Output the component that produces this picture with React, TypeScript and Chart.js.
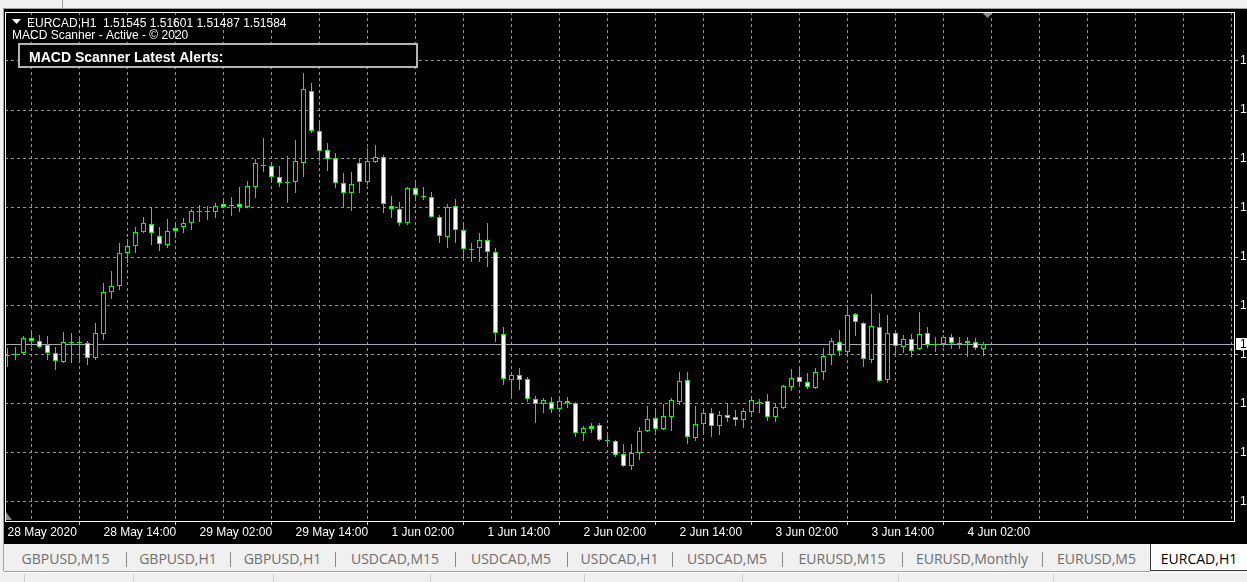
import React, { useEffect, useRef } from "react";
import { Chart, registerables } from "chart.js";

Chart.register(...registerables);

// ---------- data ----------
const symbolName = "EURCAD,H1";
const indicatorText = "MACD Scanner - Active - © 2020";
const alertsTitle = "MACD Scanner Latest Alerts:";

const timeLabels = [
  "28 May 2020", "28 May 14:00", "29 May 02:00", "29 May 14:00", "1 Jun 02:00",
  "1 Jun 14:00", "2 Jun 02:00", "2 Jun 14:00", "3 Jun 02:00", "3 Jun 14:00", "4 Jun 02:00",
];

const opens = [
  1.51496, 1.51496, 1.51512, 1.51632, 1.51608, 1.51576, 1.51512, 1.51440, 1.51600, 1.51592,
  1.51592, 1.51472, 1.51664, 1.52000, 1.52048, 1.52312, 1.52368, 1.52480, 1.52544, 1.52448,
  1.52376, 1.52512, 1.52520, 1.52552, 1.52640, 1.52648, 1.52640, 1.52704, 1.52696, 1.52704,
  1.52680, 1.52840, 1.53016, 1.53008, 1.52920, 1.52880, 1.52880, 1.53032, 1.53608, 1.53288,
  1.53136, 1.53072, 1.52872, 1.52792, 1.53032, 1.52880, 1.53040, 1.53080, 1.52688, 1.52664,
  1.52552, 1.52832, 1.52768, 1.52760, 1.52600, 1.52440, 1.52688, 1.52496, 1.52344, 1.52352,
  1.52416, 1.52320, 1.51664, 1.51296, 1.51336, 1.51304, 1.51144, 1.51104, 1.51120, 1.51064,
  1.51128, 1.51112, 1.50872, 1.50928, 1.50936, 1.50816, 1.50808, 1.50704, 1.50608, 1.50712,
  1.50888, 1.50992, 1.50904, 1.51000, 1.51120, 1.51296, 1.50832, 1.50944, 1.51032, 1.50928,
  1.51016, 1.51000, 1.50976, 1.51040, 1.51120, 1.51128, 1.51000, 1.51072, 1.51240, 1.51320,
  1.51280, 1.51232, 1.51360, 1.51496, 1.51600, 1.51520, 1.51824, 1.51752, 1.51456, 1.51720,
  1.51296, 1.51672, 1.51560, 1.51624, 1.51544, 1.51672, 1.51584, 1.51584, 1.51640, 1.51592,
  1.51608, 1.51600, 1.51545,
];

const highs = [
  1.51552, 1.51560, 1.51648, 1.51688, 1.51656, 1.51648, 1.51560, 1.51680, 1.51672, 1.51648,
  1.51608, 1.51752, 1.52072, 1.52168, 1.52392, 1.52424, 1.52520, 1.52600, 1.52672, 1.52520,
  1.52584, 1.52552, 1.52592, 1.52664, 1.52696, 1.52688, 1.52712, 1.52752, 1.52760, 1.52840,
  1.52888, 1.53064, 1.53232, 1.53032, 1.53008, 1.53088, 1.53216, 1.53752, 1.53672, 1.53376,
  1.53192, 1.53112, 1.52952, 1.52960, 1.53072, 1.53152, 1.53176, 1.53096, 1.52768, 1.52720,
  1.52840, 1.52888, 1.52840, 1.52800, 1.52616, 1.52704, 1.52744, 1.52552, 1.52392, 1.52472,
  1.52552, 1.52352, 1.51720, 1.51360, 1.51392, 1.51320, 1.51168, 1.51152, 1.51160, 1.51152,
  1.51160, 1.51120, 1.50928, 1.50952, 1.50952, 1.50856, 1.50816, 1.50784, 1.50784, 1.50920,
  1.51088, 1.51072, 1.51104, 1.51152, 1.51360, 1.51360, 1.51088, 1.51064, 1.51072, 1.51048,
  1.51112, 1.51056, 1.51072, 1.51152, 1.51144, 1.51184, 1.51112, 1.51256, 1.51384, 1.51392,
  1.51352, 1.51392, 1.51552, 1.51632, 1.51696, 1.51872, 1.51832, 1.51760, 1.51984, 1.51832,
  1.51816, 1.51688, 1.51656, 1.51664, 1.51840, 1.51720, 1.51640, 1.51656, 1.51664, 1.51640,
  1.51640, 1.51632, 1.51601,
];

const lows = [
  1.51400, 1.51456, 1.51504, 1.51560, 1.51552, 1.51456, 1.51376, 1.51432, 1.51432, 1.51440,
  1.51416, 1.51456, 1.51616, 1.51944, 1.52016, 1.52232, 1.52312, 1.52472, 1.52376, 1.52328,
  1.52352, 1.52432, 1.52472, 1.52496, 1.52560, 1.52576, 1.52592, 1.52672, 1.52608, 1.52640,
  1.52672, 1.52752, 1.52960, 1.52872, 1.52840, 1.52712, 1.52792, 1.52920, 1.53272, 1.53048,
  1.52968, 1.52832, 1.52680, 1.52648, 1.52792, 1.52856, 1.53032, 1.52632, 1.52592, 1.52528,
  1.52536, 1.52744, 1.52736, 1.52592, 1.52392, 1.52352, 1.52392, 1.52280, 1.52240, 1.52240,
  1.52200, 1.51600, 1.51256, 1.51152, 1.51216, 1.51120, 1.50952, 1.51032, 1.51032, 1.51040,
  1.51072, 1.50840, 1.50808, 1.50872, 1.50808, 1.50760, 1.50680, 1.50600, 1.50576, 1.50656,
  1.50880, 1.50856, 1.50896, 1.50888, 1.51096, 1.50784, 1.50808, 1.50864, 1.50840, 1.50856,
  1.50960, 1.50928, 1.50912, 1.51016, 1.51032, 1.50968, 1.50960, 1.51064, 1.51208, 1.51264,
  1.51224, 1.51224, 1.51296, 1.51416, 1.51488, 1.51496, 1.51648, 1.51400, 1.51432, 1.51280,
  1.51272, 1.51504, 1.51512, 1.51480, 1.51536, 1.51552, 1.51520, 1.51560, 1.51544, 1.51544,
  1.51480, 1.51536, 1.51487,
];

const closes = [
  1.51488, 1.51504, 1.51632, 1.51608, 1.51560, 1.51512, 1.51448, 1.51600, 1.51592, 1.51600,
  1.51472, 1.51672, 1.52000, 1.52048, 1.52312, 1.52368, 1.52480, 1.52552, 1.52472, 1.52384,
  1.52488, 1.52488, 1.52552, 1.52648, 1.52648, 1.52640, 1.52688, 1.52680, 1.52688, 1.52680,
  1.52848, 1.53032, 1.53008, 1.52920, 1.52872, 1.52872, 1.53048, 1.53624, 1.53288, 1.53128,
  1.53064, 1.52872, 1.52792, 1.52864, 1.52880, 1.53048, 1.53080, 1.52704, 1.52664, 1.52552,
  1.52832, 1.52776, 1.52760, 1.52600, 1.52448, 1.52680, 1.52496, 1.52344, 1.52336, 1.52416,
  1.52320, 1.51672, 1.51304, 1.51336, 1.51296, 1.51144, 1.51104, 1.51136, 1.51064, 1.51128,
  1.51112, 1.50872, 1.50912, 1.50904, 1.50816, 1.50808, 1.50696, 1.50608, 1.50712, 1.50888,
  1.50984, 1.50904, 1.51008, 1.51136, 1.51288, 1.50840, 1.50944, 1.51032, 1.50928, 1.51016,
  1.50992, 1.50976, 1.51048, 1.51136, 1.51112, 1.51000, 1.51080, 1.51248, 1.51312, 1.51280,
  1.51240, 1.51360, 1.51488, 1.51608, 1.51528, 1.51816, 1.51760, 1.51464, 1.51728, 1.51288,
  1.51672, 1.51568, 1.51624, 1.51528, 1.51664, 1.51576, 1.51576, 1.51640, 1.51592, 1.51584,
  1.51592, 1.51552, 1.51584,
];

const priceGrid = [
  1.53848, 1.53456, 1.53064, 1.52672, 1.52280, 1.51888, 1.51496, 1.51104, 1.50712, 1.50320,
];

const tabLabels = [
  "GBPUSD,M15", "GBPUSD,H1", "GBPUSD,H1", "USDCAD,M15", "USDCAD,M5", "USDCAD,H1",
  "USDCAD,M5", "EURUSD,M15", "EURUSD,Monthly", "EURUSD,M5", "EURCAD,H1",
];

// ---------- layout / style constants ----------
const Y_MIN = 1.50168;
const Y_MAX = 1.5424;
const X_MIN = -0.3125;
const X_MAX = 153.3125;
const BARS_PER_GRID = 6;
const BARS_PER_LABEL = 12;
const GRID_COLOR = "#8e979f";
const CANDLE = "#00ff00";
const FONT = "'Liberation Sans', Arial, sans-serif";
const TAB_EDGES = [5, 126, 230, 335, 455, 567, 672, 782, 902, 1042, 1151, 1247];
const STATUS_SEPS = [24, 133, 273, 430, 584, 742, 898, 1053];

export default function App() {
  const canvasRef = useRef<HTMLCanvasElement | null>(null);

  useEffect(() => {
    const canvas = canvasRef.current;
    if (!canvas) return;
    const n = opens.length;
    const idx = Array.from({ length: n }, (_, i) => i);
    const last = n - 1;
    const gridTicks: number[] = [];
    for (let v = 0; v <= X_MAX; v += BARS_PER_GRID) gridTicks.push(v);

    const overlay = {
      id: "mt4Overlay",
      beforeDatasetsDraw(chart: any) {
        const { ctx, chartArea, scales } = chart;
        const py = Math.round(scales.y.getPixelForValue(closes[last])) + 0.5;
        ctx.save();
        ctx.strokeStyle = "#a3abb3";
        ctx.lineWidth = 1;
        ctx.beginPath();
        ctx.moveTo(chartArea.left, py);
        ctx.lineTo(chartArea.right, py);
        ctx.stroke();
        ctx.restore();
      },
      afterDraw(chart: any) {
        const { ctx, chartArea, scales } = chart;
        ctx.save();
        // frame
        ctx.strokeStyle = "#ffffff";
        ctx.lineWidth = 1;
        ctx.strokeRect(chartArea.left + 0.5, chartArea.top + 0.5, chartArea.right - chartArea.left, chartArea.bottom - chartArea.top);
        // bid label
        const py = Math.round(scales.y.getPixelForValue(closes[last]));
        ctx.fillStyle = "#ffffff";
        ctx.fillRect(chartArea.right + 2, py - 6, 30, 12);
        ctx.fillStyle = "#000000";
        ctx.font = `12px ${FONT}`;
        ctx.textBaseline = "middle";
        ctx.textAlign = "left";
        ctx.fillText(closes[last].toFixed(5), chartArea.right + 6, py + 0.5);
        // chart shift marker
        const sx = scales.x.getPixelForValue(last) + 4;
        ctx.fillStyle = "#8a8a8a";
        ctx.beginPath();
        ctx.moveTo(sx - 5, chartArea.top + 1);
        ctx.lineTo(sx + 5, chartArea.top + 1);
        ctx.lineTo(sx, chartArea.top + 6);
        ctx.closePath();
        ctx.fill();
        // bottom-left marker
        ctx.beginPath();
        ctx.moveTo(chartArea.left + 1, chartArea.bottom - 9);
        ctx.lineTo(chartArea.left + 7, chartArea.bottom - 1);
        ctx.lineTo(chartArea.left + 1, chartArea.bottom - 1);
        ctx.closePath();
        ctx.fill();
        // header
        ctx.fillStyle = "#ffffff";
        ctx.beginPath();
        ctx.moveTo(8, 10);
        ctx.lineTo(17, 10);
        ctx.lineTo(12.5, 15);
        ctx.closePath();
        ctx.fill();
        ctx.textBaseline = "alphabetic";
        ctx.font = `12px ${FONT}`;
        const head = `${symbolName}  ${opens[last].toFixed(5)} ${highs[last].toFixed(5)} ${lows[last].toFixed(5)} ${closes[last].toFixed(5)}`;
        ctx.fillText(head, 23, 18);
        ctx.fillText(indicatorText, 8, 30);
        // alerts box
        ctx.fillStyle = "#000000";
        ctx.fillRect(14, 34, 400, 25);
        ctx.strokeStyle = "#b4b4b4";
        ctx.lineWidth = 2;
        ctx.strokeRect(15, 35, 398, 23);
        ctx.fillStyle = "#ffffff";
        ctx.font = `bold 14px ${FONT}`;
        ctx.fillText(alertsTitle, 25, 53);
        ctx.restore();
      },
    };

    const chart = new Chart(canvas, {
      type: "bar",
      data: {
        datasets: [
          {
            label: "bodies",
            data: idx.map((i) => ({ x: i, y: [opens[i], closes[i]] })) as any,
            order: 1,
            grouped: false,
            maxBarThickness: 5,
            borderWidth: 1,
            borderColor: CANDLE,
            borderSkipped: false,
            inflateAmount: 0,
            backgroundColor: idx.map((i) => (closes[i] < opens[i] ? "#ffffff" : "#000000")),
          } as any,
          {
            label: "wicks",
            data: idx.map((i) => ({ x: i, y: [lows[i], highs[i]] })) as any,
            order: 2,
            grouped: false,
            maxBarThickness: 1,
            borderWidth: 0,
            inflateAmount: 0,
            backgroundColor: CANDLE,
          } as any,
        ],
      },
      options: {
        animation: false,
        responsive: false,
        devicePixelRatio: 1,
        events: [],
        layout: { padding: { left: 1, top: 3, right: 0, bottom: 0 } },
        plugins: { legend: { display: false }, tooltip: { enabled: false } },
        scales: {
          x: {
            type: "linear",
            position: "bottom",
            min: X_MIN,
            max: X_MAX,
            offset: false,
            afterBuildTicks: (s: any) => {
              s.ticks = gridTicks.map((v) => ({ value: v }));
            },
            afterFit: (s: any) => {
              s.height = 23;
              s.paddingLeft = 0;
              s.paddingRight = 0;
            },
            grid: {
              color: GRID_COLOR,
              lineWidth: 1,
              drawTicks: true,
              tickLength: 4,
              tickColor: (c: any) =>
                c.tick && c.tick.value % BARS_PER_LABEL === 0 && c.tick.value / BARS_PER_LABEL < timeLabels.length
                  ? "#c8c8c8"
                  : "rgba(0,0,0,0)",
            },
            border: { display: false, dash: [3, 3] },
            ticks: {
              autoSkip: false,
              maxRotation: 0,
              minRotation: 0,
              align: "start",
              padding: 0,
              color: "#ffffff",
              font: { family: FONT, size: 12 },
              callback: (v: any) => {
                const i = Math.round(Number(v));
                return i % BARS_PER_LABEL === 0 ? timeLabels[i / BARS_PER_LABEL] ?? "" : "";
              },
            },
          } as any,
          y: {
            type: "linear",
            position: "right",
            min: Y_MIN,
            max: Y_MAX,
            afterBuildTicks: (s: any) => {
              s.ticks = priceGrid.map((v) => ({ value: v }));
            },
            afterFit: (s: any) => {
              s.width = 13;
              s.paddingTop = 0;
              s.paddingBottom = 0;
            },
            grid: { color: GRID_COLOR, lineWidth: 1, tickLength: 4, tickColor: "#c8c8c8" },
            border: { display: false, dash: [3, 3] },
            ticks: {
              autoSkip: false,
              padding: 2,
              color: "#ffffff",
              font: { family: FONT, size: 12 },
              callback: (v: any) => Number(v).toFixed(5),
            },
          } as any,
        },
      },
      plugins: [overlay],
    } as any);

    return () => chart.destroy();
  }, []);

  const tabFont = "'Open Sans', 'Noto Sans', sans-serif";

  return (
    <div
      style={{
        position: "fixed",
        left: 0,
        top: 0,
        width: 1247,
        height: 582,
        background: "#f0f0f0",
        overflow: "hidden",
      }}
    >
      <div style={{ position: "absolute", left: 62, top: 0, width: 1, height: 8, background: "#a0a0a0" }} />
      <div style={{ position: "absolute", left: 3, top: 8, width: 1244, height: 1, background: "#a0a0a0" }} />
      <div style={{ position: "absolute", left: 3, top: 8, width: 1, height: 563, background: "#a0a0a0" }} />
      <canvas
        ref={canvasRef}
        width={1243}
        height={535}
        style={{ position: "absolute", left: 4, top: 9, width: 1243, height: 535, background: "#000000" }}
      />
      {tabLabels.map((t, i) => {
        const active = i === tabLabels.length - 1;
        const left = TAB_EDGES[i];
        const width = TAB_EDGES[i + 1] - TAB_EDGES[i];
        return (
          <div
            key={i}
            style={{
              position: "absolute",
              left: active ? left - 1 : left,
              top: 544,
              width: active ? width + 1 : width,
              height: 27,
              boxSizing: "border-box",
              background: active ? "#ffffff" : "transparent",
              borderLeft: active ? "1px solid #3a3a3a" : "none",
              borderBottom: active ? "1px solid #3a3a3a" : "none",
              color: active ? "#000000" : "#6e6e6e",
              fontFamily: tabFont,
              fontSize: 14,
              lineHeight: "29px",
              textAlign: "center",
              whiteSpace: "nowrap",
            }}
          >
            {t}
          </div>
        );
      })}
      {TAB_EDGES.slice(1, TAB_EDGES.length - 2).map((x, i) => (
        <div key={"s" + i} style={{ position: "absolute", left: x, top: 552, width: 1, height: 15, background: "#8c8c8c" }} />
      ))}
      <div style={{ position: "absolute", left: 4, top: 571, width: 1146, height: 1, background: "#a0a0a0" }} />
      <div style={{ position: "absolute", left: 0, top: 572, width: 1247, height: 1, background: "#ffffff" }} />
      {STATUS_SEPS.map((x, i) => (
        <div key={"b" + i} style={{ position: "absolute", left: x, top: 574, width: 1, height: 8, background: "#cfcfcf" }} />
      ))}
    </div>
  );
}
